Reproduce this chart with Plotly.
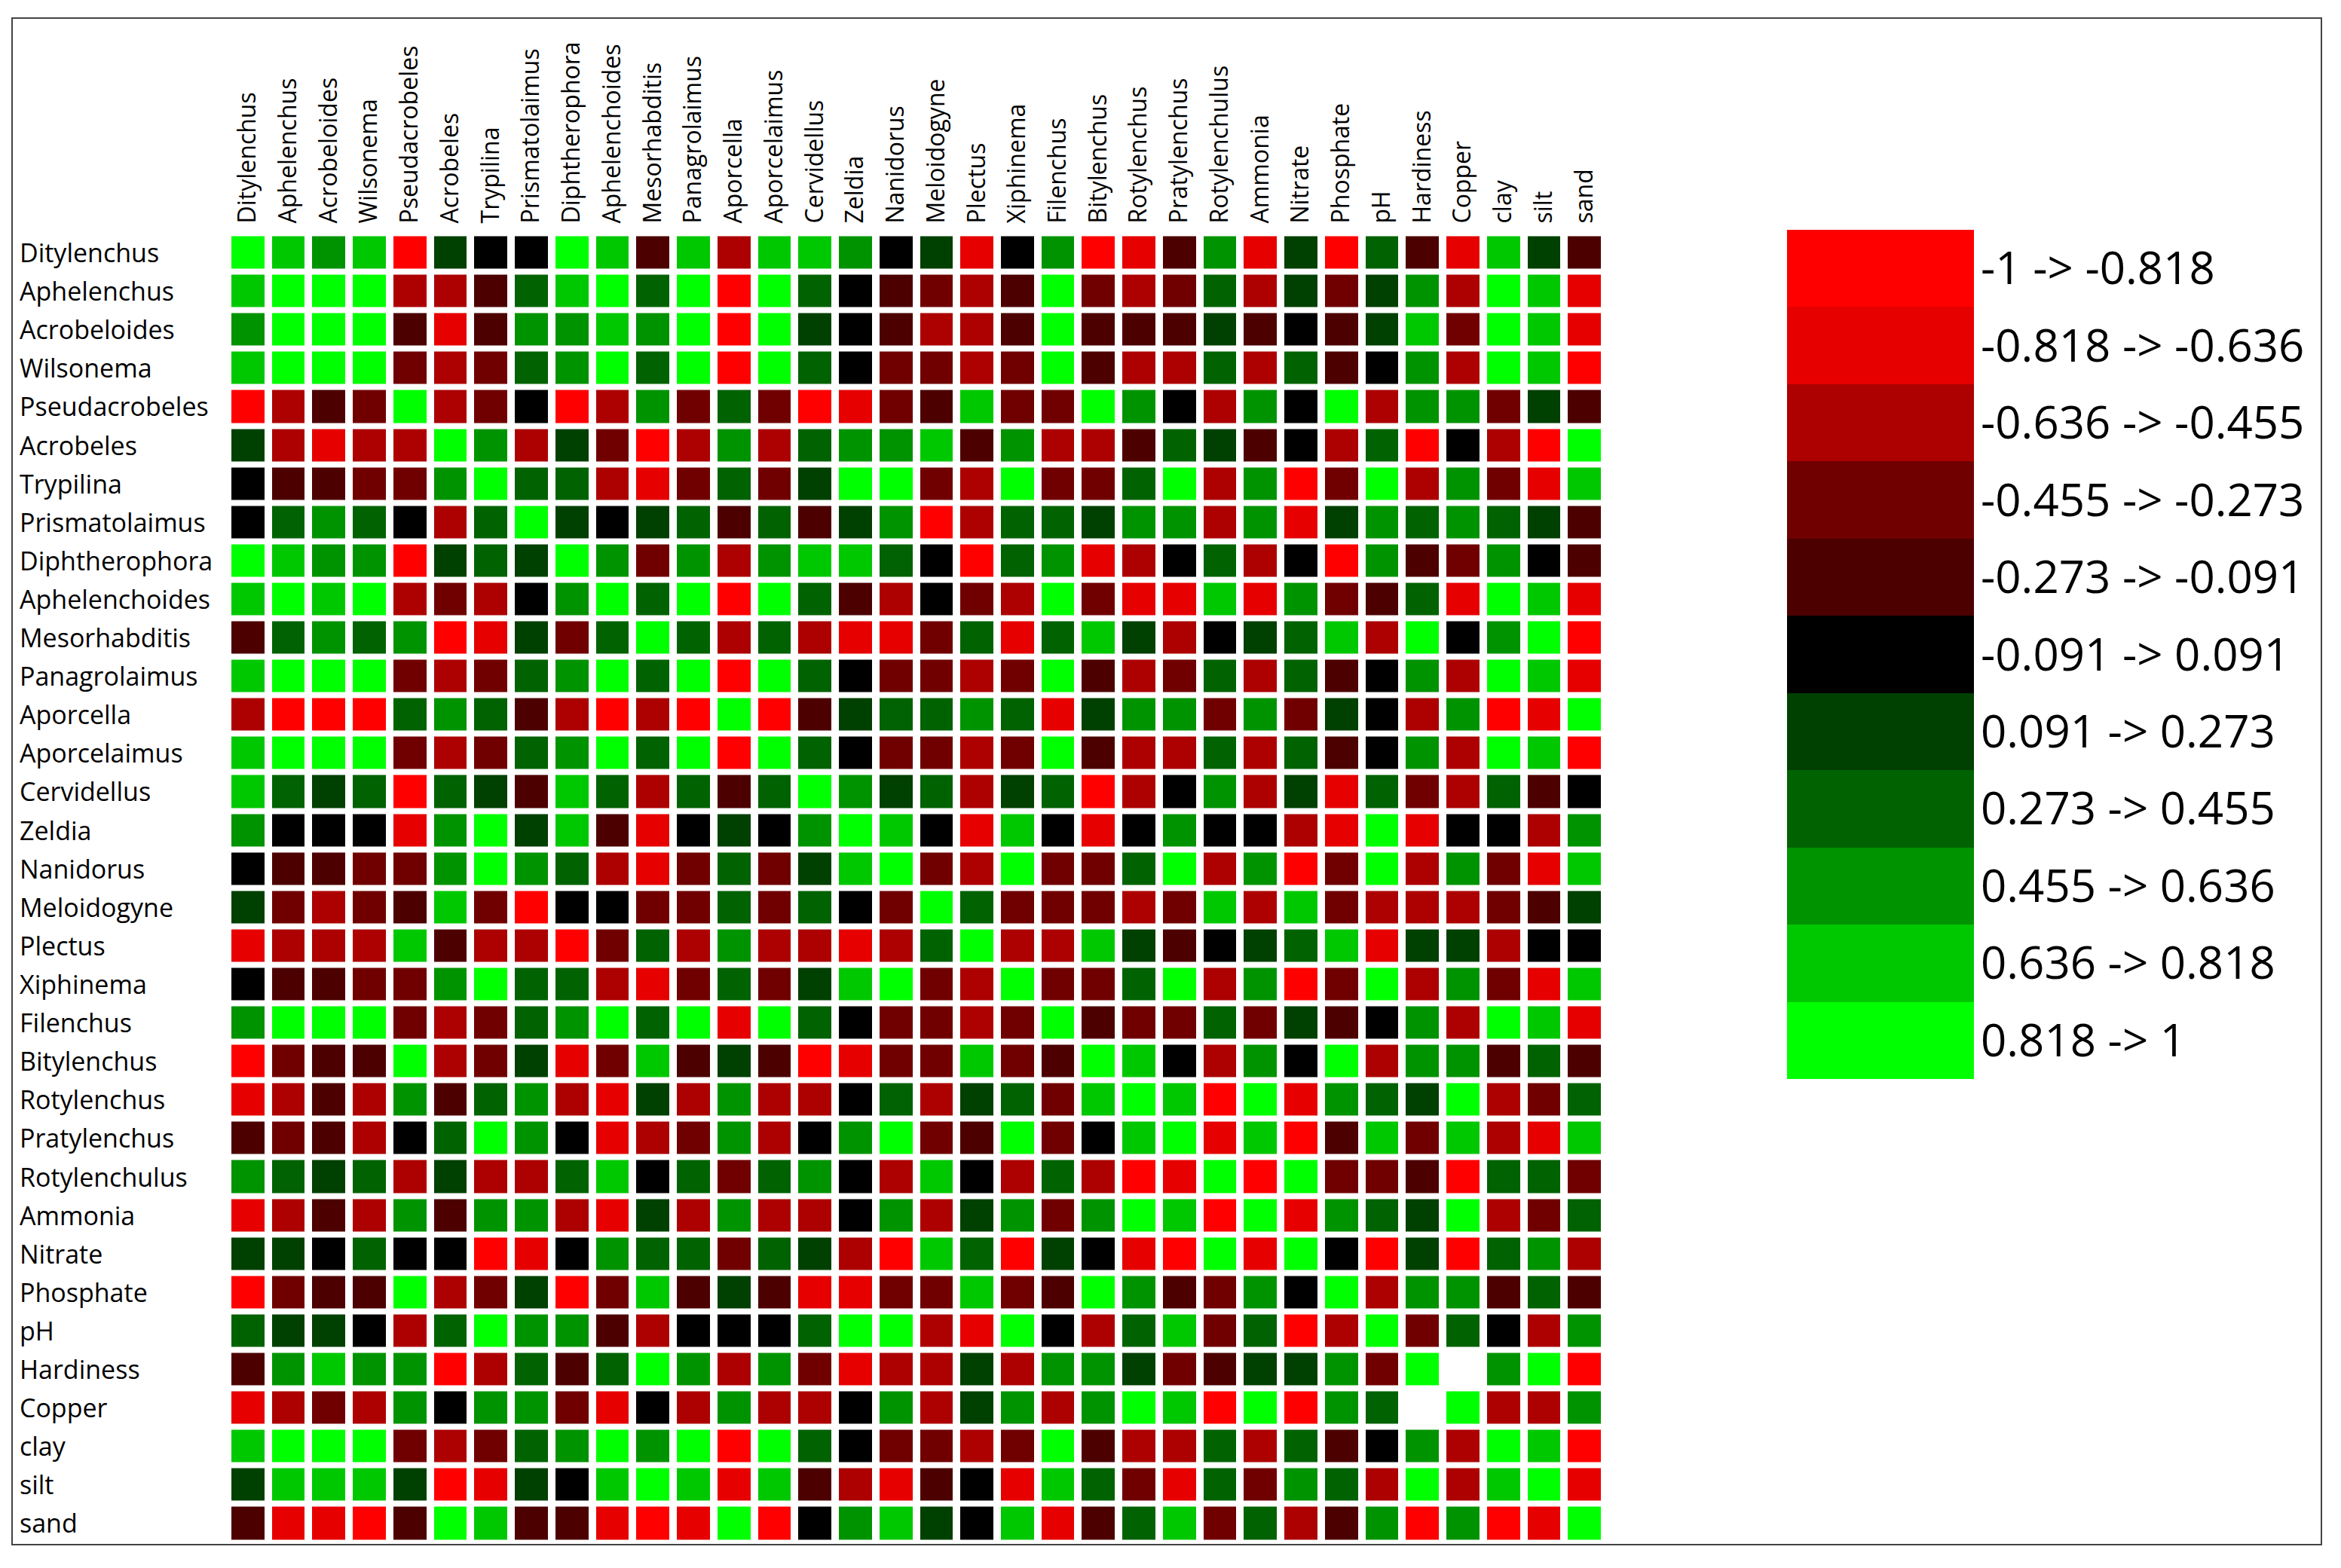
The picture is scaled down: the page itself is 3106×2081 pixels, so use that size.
import plotly.graph_objects as go

# nematode taxa + soil variables (same order on both axes)
taxa = ["Ditylenchus", "Aphelenchus", "Acrobeloides", "Wilsonema", "Pseudacrobeles",
        "Acrobeles", "Trypilina", "Prismatolaimus", "Diphtherophora", "Aphelenchoides",
        "Mesorhabditis", "Panagrolaimus", "Aporcella", "Aporcelaimus", "Cervidellus",
        "Zeldia", "Nanidorus", "Meloidogyne", "Plectus", "Xiphinema", "Filenchus",
        "Bitylenchus", "Rotylenchus", "Pratylenchus", "Rotylenchulus", "Ammonia",
        "Nitrate", "Phosphate", "pH", "Hardiness", "Copper", "clay", "silt", "sand"]

# correlation estimates (bin centres), None = blank cell
N = None
corr = [
    [1.0, .73, .55, .73, -.91, .18, 0, 0, .91, .73, -.18, .73, -.55, .73, .73, .55, 0, .18, -.73, 0, .55, -.91, -.73, -.18, .55, -.73, .18, -.91, .36, -.18, -.73, .73, .18, -.18],
    [.73, 1.0, .91, .91, -.55, -.55, -.18, .36, .73, .91, .36, .91, -.91, .91, .36, 0, -.18, -.36, -.55, -.18, .91, -.36, -.55, -.36, .36, -.55, .18, -.36, .18, .55, -.55, .91, .73, -.73],
    [.55, .91, 1.0, .91, -.18, -.73, -.18, .55, .55, .73, .55, .91, -.91, .91, .18, 0, -.18, -.55, -.55, -.18, .91, -.18, -.18, -.18, .18, -.18, 0, -.18, .18, .73, -.36, .91, .73, -.73],
    [.73, .91, .91, 1.0, -.36, -.55, -.36, .36, .55, .91, .36, .91, -.91, .91, .36, 0, -.36, -.36, -.55, -.36, .91, -.18, -.55, -.55, .36, -.55, .36, -.18, 0, .55, -.55, .91, .73, -.91],
    [-.91, -.55, -.18, -.36, 1.0, -.55, -.36, 0, -.91, -.55, .55, -.36, .36, -.36, -.91, -.73, -.36, -.18, .73, -.36, -.36, .91, .55, 0, -.55, .55, 0, .91, -.55, .55, .55, -.36, .18, -.18],
    [.18, -.55, -.73, -.55, -.55, 1.0, .55, -.55, .18, -.36, -.91, -.55, .55, -.55, .36, .55, .55, .73, -.18, .55, -.55, -.55, -.18, .36, .18, -.18, 0, -.55, .36, -.91, 0, -.55, -.91, .91],
    [0, -.18, -.18, -.36, -.36, .55, 1.0, .36, .36, -.55, -.73, -.36, .36, -.36, .18, .91, .91, -.36, -.55, .91, -.36, -.36, .36, .91, -.55, .55, -.91, -.36, .91, -.55, .55, -.36, -.73, .73],
    [0, .36, .55, .36, 0, -.55, .36, 1.0, .18, 0, .18, .36, -.18, .36, -.18, .18, .55, -.91, -.55, .36, .36, .18, .55, .55, -.55, .55, -.73, .18, .55, .36, .55, .36, .18, -.18],
    [.91, .73, .55, .55, -.91, .18, .36, .18, 1.0, .55, -.36, .55, -.55, .55, .73, .73, .36, 0, -.91, .36, .55, -.73, -.55, 0, .36, -.55, 0, -.91, .55, -.18, -.36, .55, 0, -.18],
    [.73, .91, .73, .91, -.55, -.36, -.55, 0, .55, 1.0, .36, .91, -.91, .91, .36, -.18, -.55, 0, -.36, -.55, .91, -.36, -.73, -.73, .73, -.73, .55, -.36, -.18, .36, -.73, .91, .73, -.73],
    [-.18, .36, .55, .36, .55, -.91, -.73, .18, -.36, .36, 1.0, .36, -.55, .36, -.55, -.73, -.73, -.36, .36, -.73, .36, .73, .18, -.55, 0, .18, .36, .73, -.55, .91, 0, .55, .91, -.91],
    [.73, .91, .91, .91, -.36, -.55, -.36, .36, .55, .91, .36, 1.0, -.91, .91, .36, 0, -.36, -.36, -.55, -.36, .91, -.18, -.55, -.36, .36, -.55, .36, -.18, 0, .55, -.55, .91, .73, -.73],
    [-.55, -.91, -.91, -.91, .36, .55, .36, -.18, -.55, -.91, -.55, -.91, 1.0, -.91, -.18, .18, .36, .36, .55, .36, -.73, .18, .55, .55, -.36, .55, -.36, .18, 0, -.55, .55, -.91, -.73, .91],
    [.73, .91, .91, .91, -.36, -.55, -.36, .36, .55, .91, .36, .91, -.91, 1.0, .36, 0, -.36, -.36, -.55, -.36, .91, -.18, -.55, -.55, .36, -.55, .36, -.18, 0, .55, -.55, .91, .73, -.91],
    [.73, .36, .18, .36, -.91, .36, .18, -.18, .73, .36, -.55, .36, -.18, .36, 1.0, .55, .18, .36, -.55, .18, .36, -.91, -.55, 0, .55, -.55, .18, -.73, .36, -.36, -.55, .36, -.18, 0],
    [.55, 0, 0, 0, -.73, .55, .91, .18, .73, -.18, -.73, 0, .18, 0, .55, 1.0, .73, 0, -.73, .73, 0, -.73, 0, .55, 0, 0, -.55, -.73, .91, -.73, 0, 0, -.55, .55],
    [0, -.18, -.18, -.36, -.36, .55, .91, .55, .36, -.55, -.73, -.36, .36, -.36, .18, .73, 1.0, -.36, -.55, .91, -.36, -.36, .36, .91, -.55, .55, -.91, -.36, .91, -.55, .55, -.36, -.73, .73],
    [.18, -.36, -.55, -.36, -.18, .73, -.36, -.91, 0, 0, -.36, -.36, .36, -.36, .36, 0, -.36, 1.0, .36, -.36, -.36, -.36, -.55, -.36, .73, -.55, .73, -.36, -.55, -.55, -.55, -.36, -.18, .18],
    [-.73, -.55, -.55, -.55, .73, -.18, -.55, -.55, -.91, -.36, .36, -.55, .55, -.55, -.55, -.73, -.55, .36, 1.0, -.55, -.55, .73, .18, -.18, 0, .18, .36, .73, -.73, .18, .18, -.55, 0, 0],
    [0, -.18, -.18, -.36, -.36, .55, .91, .36, .36, -.55, -.73, -.36, .36, -.36, .18, .73, .91, -.36, -.55, 1.0, -.36, -.36, .36, .91, -.55, .55, -.91, -.36, .91, -.55, .55, -.36, -.73, .73],
    [.55, .91, .91, .91, -.36, -.55, -.36, .36, .55, .91, .36, .91, -.73, .91, .36, 0, -.36, -.36, -.55, -.36, 1.0, -.18, -.36, -.36, .36, -.36, .18, -.18, 0, .55, -.55, .91, .73, -.73],
    [-.91, -.36, -.18, -.18, .91, -.55, -.36, .18, -.73, -.36, .73, -.18, .18, -.18, -.91, -.73, -.36, -.36, .73, -.36, -.18, 1.0, .73, 0, -.55, .55, 0, .91, -.55, .55, .55, -.18, .36, -.18],
    [-.73, -.55, -.18, -.55, .55, -.18, .36, .55, -.55, -.73, .18, -.55, .55, -.55, -.55, 0, .36, -.55, .18, .36, -.36, .73, 1.0, .73, -.91, .91, -.73, .55, .36, .18, .91, -.55, -.36, .36],
    [-.18, -.36, -.18, -.55, 0, .36, .91, .55, 0, -.73, -.55, -.36, .55, -.55, 0, .55, .91, -.36, -.18, .91, -.36, 0, .73, 1.0, -.73, .73, -.91, -.18, .73, -.36, .73, -.55, -.73, .73],
    [.55, .36, .18, .36, -.55, .18, -.55, -.55, .36, .73, 0, .36, -.36, .36, .55, 0, -.55, .73, 0, -.55, .36, -.55, -.91, -.73, 1.0, -.91, .91, -.36, -.36, -.18, -.91, .36, .36, -.36],
    [-.73, -.55, -.18, -.55, .55, -.18, .55, .55, -.55, -.73, .18, -.55, .55, -.55, -.55, 0, .55, -.55, .18, .55, -.36, .55, .91, .73, -.91, 1.0, -.73, .55, .36, .18, .91, -.55, -.36, .36],
    [.18, .18, 0, .36, 0, 0, -.91, -.73, 0, .55, .36, .36, -.36, .36, .18, -.55, -.91, .73, .36, -.91, .18, 0, -.73, -.91, .91, -.73, 1.0, 0, -.91, .18, -.91, .36, .55, -.55],
    [-.91, -.36, -.18, -.18, .91, -.55, -.36, .18, -.91, -.36, .73, -.18, .18, -.18, -.73, -.73, -.36, -.36, .73, -.36, -.18, .91, .55, -.18, -.36, .55, 0, 1.0, -.55, .55, .55, -.18, .36, -.18],
    [.36, .18, .18, 0, -.55, .36, .91, .55, .55, -.18, -.55, 0, 0, 0, .36, .91, .91, -.55, -.73, .91, 0, -.55, .36, .73, -.36, .36, -.91, -.55, 1.0, -.36, .36, 0, -.55, .55],
    [-.18, .55, .73, .55, .55, -.91, -.55, .36, -.18, .36, .91, .55, -.55, .55, -.36, -.73, -.55, -.55, .18, -.55, .55, .55, .18, -.36, -.18, .18, .18, .55, -.36, 1.0, N, .55, .91, -.91],
    [-.73, -.55, -.36, -.55, .55, 0, .55, .55, -.36, -.73, 0, -.55, .55, -.55, -.55, 0, .55, -.55, .18, .55, -.55, .55, .91, .73, -.91, .91, -.91, .55, .36, N, 1.0, -.55, -.55, .55],
    [.73, .91, .91, .91, -.36, -.55, -.36, .36, .55, .91, .55, .91, -.91, .91, .36, 0, -.36, -.36, -.55, -.36, .91, -.18, -.55, -.55, .36, -.55, .36, -.18, 0, .55, -.55, 1.0, .73, -.91],
    [.18, .73, .73, .73, .18, -.91, -.73, .18, 0, .73, .91, .73, -.73, .73, -.18, -.55, -.73, -.18, 0, -.73, .73, .36, -.36, -.73, .36, -.36, .55, .36, -.55, .91, -.55, .73, 1.0, -.73],
    [-.18, -.73, -.73, -.91, -.18, .91, .73, -.18, -.18, -.73, -.91, -.73, .91, -.91, 0, .55, .73, .18, 0, .73, -.73, -.18, .36, .73, -.36, .36, -.55, -.18, .55, -.91, .55, -.91, -.73, 1.0],
]

# legend bins
bin_labels = ["-1 -> -0.818", "-0.818 -> -0.636", "-0.636 -> -0.455", "-0.455 -> -0.273",
              "-0.273 -> -0.091", "-0.091 -> 0.091", "0.091 -> 0.273", "0.273 -> 0.455",
              "0.455 -> 0.636", "0.636 -> 0.818", "0.818 -> 1"]
bin_values = [-0.909, -0.727, -0.545, -0.364, -0.182, 0.0, 0.182, 0.364, 0.545, 0.727, 0.909]
bin_colors = ["#ff0000", "#e60000", "#ad0000", "#700000", "#4c0000", "#000000",
              "#004000", "#006200", "#009300", "#00c800", "#00ff00"]

W, H = 3106, 2081
OFF = 8  # browser body margin shifts the plot by 8px


def px(x):
    return (x - OFF) / W


def py(y):
    return 1 - (y - OFF) / H


# stepped colour scale, one flat band per bin
n = len(bin_colors)
cscale = []
for i, c in enumerate(bin_colors):
    cscale.append([i / n, c])
    cscale.append([(i + 1) / n, c])

fig = go.Figure()

fig.add_trace(go.Heatmap(
    z=corr, x=taxa, y=taxa,
    colorscale=cscale, zmin=-1, zmax=1,
    xgap=10, ygap=8, showscale=False, hoverongaps=False
))

# legend drawn as a one-column heatmap
fig.add_trace(go.Heatmap(
    z=[[v] for v in bin_values], x=["bin"], y=bin_labels,
    xaxis="x2", yaxis="y2",
    colorscale=cscale, zmin=-1, zmax=1, showscale=False
))

# row labels, left aligned
annotations = []
for t in taxa:
    annotations.append(dict(
        x=px(24), xref="paper", xanchor="left",
        y=t, yref="y", yanchor="middle",
        text=t, showarrow=False,
        font=dict(family="Open Sans", size=34, color="black")
    ))

fig.update_layout(
    width=W, height=H,
    margin=dict(l=0, r=0, t=0, b=0),
    paper_bgcolor="white", plot_bgcolor="white",
    xaxis=dict(domain=[px(302), px(2129)], side="top", tickangle=-90,
               showgrid=False, zeroline=False, ticks="", anchor="y",
               ticklabelstandoff=12,
               tickfont=dict(family="Open Sans", size=32, color="black")),
    yaxis=dict(domain=[py(2047), py(309.5)], autorange="reversed",
               showgrid=False, zeroline=False, showticklabels=False, anchor="x"),
    xaxis2=dict(domain=[px(2371), px(2619)], visible=False, anchor="y2"),
    yaxis2=dict(domain=[py(1432), py(305)], autorange="reversed", side="right",
                anchor="x2", showgrid=False, zeroline=False, ticks="",
                ticklabelstandoff=8,
                tickfont=dict(family="Open Sans", size=60, color="black")),
    annotations=annotations,
    shapes=[dict(type="rect", xref="paper", yref="paper",
                 x0=px(16), x1=px(3080), y0=py(2050), y1=py(24),
                 line=dict(color="#444444", width=2))],
    showlegend=False,
)

fig.write_html("out.html")
